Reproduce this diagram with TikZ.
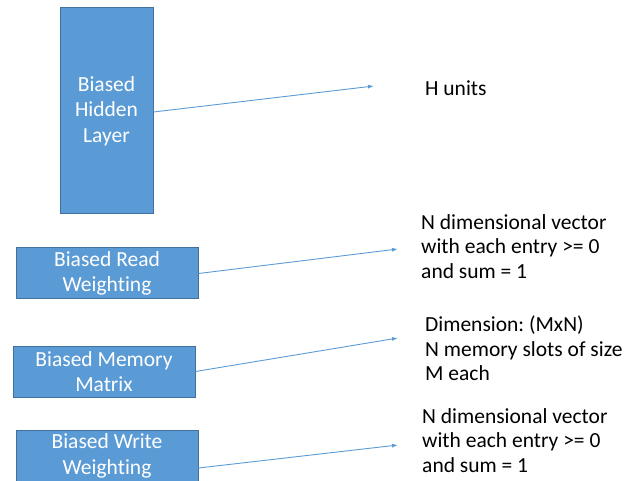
\documentclass[tikz,border=0pt]{standalone}
\usepackage{fontspec}
\setmainfont[Ligatures=NoCommon]{Carlito}
\frenchspacing
\usetikzlibrary{arrows.meta}
\definecolor{boxfill}{HTML}{5B9BD5}
\definecolor{boxedge}{HTML}{41719C}
\definecolor{arrowblue}{HTML}{5B9BD5}
\begin{document}
\begin{tikzpicture}[x=1pt,y=-1pt,
  bluebox/.style={draw=boxedge,line width=1pt,fill=boxfill,text=white,
    align=center,inner sep=0pt,font=\fontsize{21.5}{25.5}\selectfont},
  note/.style={anchor=north west,align=left,inner sep=0pt,
    font=\fontsize{21.5}{24.5}\selectfont},
  link/.style={draw=arrowblue,line width=0.9pt,-{Latex[length=6pt,width=4pt]}}]
\useasboundingbox (0,0) rectangle (627,481);
% layer boxes
\node[bluebox,minimum width=93pt,minimum height=206pt] (hidden) at (106.5,111) {Biased\\Hidden\\Layer};
\node[bluebox,minimum width=182pt,minimum height=51pt] (read) at (107,273.5) {Biased Read\\Weighting};
\node[bluebox,minimum width=182pt,minimum height=51pt] (memory) at (104,371.5) {Biased Memory\\Matrix};
\node[bluebox,minimum width=182pt,minimum height=52pt] (write) at (107,456) {Biased Write\\Weighting};
% arrow end points
\coordinate (hEnd) at (374,86);
\coordinate (rEnd) at (398,249);
\coordinate (mEnd) at (398,338);
\coordinate (wEnd) at (398,445);
% descriptions
\node[note] (hText) at (425,81) {H units};
\node[note] (rText) at (421,214) {N dimensional vector\\with each entry >= 0\\and sum = 1};
\node[note] (mText) at (425,316) {Dimension: (MxN)\\N memory slots of size\\M each};
\node[note] (wText) at (422,408) {N dimensional vector\\with each entry >= 0\\and sum = 1};
% connectors
\draw[link] (hidden.east |- 0,112) -- (hEnd);
\draw[link] (read.east) -- (rEnd);
\draw[link] (memory.east) -- (mEnd);
\draw[link] (write.east |- 0,468) -- (wEnd);
\end{tikzpicture}
\end{document}
